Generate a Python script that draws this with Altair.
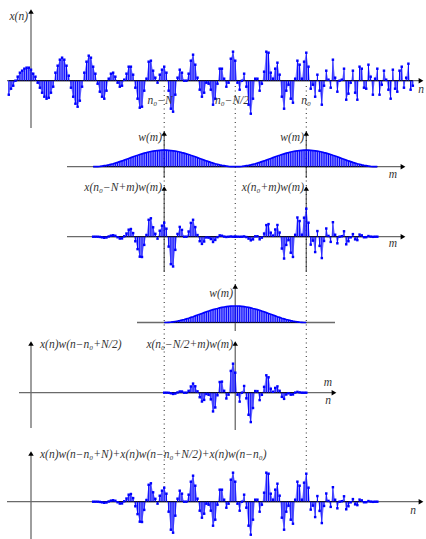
import altair as alt
import pandas as pd

# ---------------- data ----------------
N_START = -10          # first sample index of x(n)
x_vals = [
    -14, -8, -5, 0, 4, 8, 10, 12, 13, 13,
    11, 7, 4, -2, -7, -12, -16, -18, -17, -12,
    -6, 8, 15, 21, 23, 21, 15, 5, -7, -16,
    -23, -26, -20, -6, 8, 19, 25, 23, 14, 7,
    -3, -11, -16, -18, -10, 2,
    7, 8, 4, -2, -6, -5, 1, 7, 14, 14,
    6, -7, -18, -27, -26, -10, 2, 19, 20, 10,
    3, -2, 6, 11, 14, 8, -10, -28, -31, -14,
    3, 11, 8, 0, 0, 7, 20, 26, 16, 3,
    -9, -16, -12, -2, -3, -9,
    -24, -18, -3, 12, 12, 2, -6, -2, 22, 29,
    20, -2, -9, 0, 7, -6, -24, -33, -18, 2,
    2, -10, -3, 9, 29, 28, 8, 2, 12, 18,
    6, -16, -28, -10, -4, -18, -22, 2, 20, 16,
    2, 19, 28, 14, -8, -4, -16, 6, -10, -24,
    -5, 10, 1, -7, 21, 3, -11, 0, 1, 12,
    -19, -13, -2, 10, -12, -19, 14, 12, -7, -8,
    16, 4, -14, 2, 12, -14, -4, 10, 1, -9,
    -18, 11, -8, -11, 10, 14, -7, 3, 17, -9,
    -5,
]
M_START = -32          # window w(m), m = -32 ... 32
w_vals = [
    0.00, 0.00, 0.01, 0.02, 0.04, 0.06, 0.08, 0.11,
    0.15, 0.18, 0.22, 0.26, 0.31, 0.35, 0.40, 0.45,
    0.50, 0.55, 0.60, 0.65, 0.69, 0.74, 0.78, 0.82,
    0.85, 0.89, 0.92, 0.94, 0.96, 0.98, 0.99, 1.00,
    1.00,
    1.00, 0.99, 0.98, 0.96, 0.94, 0.92, 0.89, 0.85,
    0.82, 0.78, 0.74, 0.69, 0.65, 0.60, 0.55, 0.50,
    0.45, 0.40, 0.35, 0.31, 0.26, 0.22, 0.18, 0.15,
    0.11, 0.08, 0.06, 0.04, 0.02, 0.01, 0.00, 0.00,
]
N = 64
n0 = 124

# ---------------- layout ----------------
W, H = 426, 539
PX0, DX = 31.0, 2.22            # pixel of n = 0, pixels per sample


def n_at(px):
    return (px - PX0) / DX


BASE = {"x": 80.7, "w1": 166.7, "p1": 236.7, "w2": 322.5, "p2": 392.7, "s": 501.7}
WIN_H = 16.5
BLUE = "#0000ff"
GRAY = "#6a6a6a"

xs = {N_START + i: v for i, v in enumerate(x_vals)}
ws = {M_START + i: v for i, v in enumerate(w_vals)}

rows = []


def add(seg, kind, n, base, v):
    rows.append(dict(seg=seg, kind=kind, n=n, base=base, tip=base - v))


for n, v in xs.items():
    add("x", "sig", n, BASE["x"], v)
for c, seg in [(n0 - N, "wA"), (n0, "wB")]:
    for m, w in ws.items():
        add(seg, "win", c + m, BASE["w1"], WIN_H * w)
for m, w in ws.items():
    add("wC", "win", n0 - N // 2 + m, BASE["w2"], WIN_H * w)
for c, seg in [(n0 - N, "pA"), (n0, "pB")]:
    for m, w in ws.items():
        add(seg, "sig", c + m, BASE["p1"], xs[c + m] * w)
for m, w in ws.items():
    add("pC", "sig", n0 - N // 2 + m, BASE["p2"], xs[n0 - N // 2 + m] * w)
centers = [n0 - N, n0 - N // 2, n0]
for n in range(n0 - N - N // 2, n0 + N // 2 + 1):
    tot = sum(ws.get(n - c, 0) for c in centers)
    add("s", "sig", n, BASE["s"], xs[n] * tot)

df = pd.DataFrame(rows)
df_sig = df[df.kind == "sig"]
df_win = df[df.kind == "win"]
base_df = df.groupby("seg").agg(n1=("n", "min"), n2=("n", "max"), base=("base", "first")).reset_index()

h_axes = pd.DataFrame([
    dict(n1=n_at(7), n2=n_at(420), y=BASE["x"]),
    dict(n1=n_at(67), n2=n_at(402), y=BASE["w1"]),
    dict(n1=n_at(67), n2=n_at(402), y=BASE["p1"]),
    dict(n1=n_at(137), n2=n_at(335), y=BASE["w2"]),
    dict(n1=n_at(19), n2=n_at(333), y=BASE["p2"]),
    dict(n1=n_at(7), n2=n_at(420), y=BASE["s"]),
])
v_axes = pd.DataFrame([
    dict(n=0, y1=12, y2=128),
    dict(n=n0 - N, y1=133, y2=178), dict(n=n0, y1=133, y2=178),
    dict(n=n0 - N, y1=188, y2=272), dict(n=n0, y1=188, y2=272),
    dict(n=n0 - N // 2, y1=286, y2=331),
    dict(n=0, y1=343, y2=428), dict(n=n0 - N // 2, y1=343, y2=430),
    dict(n=0, y1=453, y2=539),
])
arrows = pd.DataFrame([
    dict(n=0, y=11.5, shape="triangle-up"),
    dict(n=n0 - N, y=133.5, shape="triangle-up"),
    dict(n=n0, y=133.5, shape="triangle-up"),
    dict(n=n0 - N, y=188.5, shape="triangle-up"),
    dict(n=n0, y=188.5, shape="triangle-up"),
    dict(n=n0 - N // 2, y=286.5, shape="triangle-up"),
    dict(n=0, y=343.5, shape="triangle-up"),
    dict(n=n0 - N // 2, y=343.5, shape="triangle-up"),
    dict(n=0, y=453.5, shape="triangle-up"),
    dict(n=n_at(421), y=BASE["x"], shape="triangle-right"),
    dict(n=n_at(403), y=BASE["w1"], shape="triangle-right"),
    dict(n=n_at(403), y=BASE["p1"], shape="triangle-right"),
    dict(n=n_at(334), y=BASE["p2"], shape="triangle-right"),
    dict(n=n_at(421), y=BASE["s"], shape="triangle-right"),
])
dots = pd.DataFrame([
    dict(n=n0 - N, y1=86, y2=487),
    dict(n=n0 - N // 2, y1=86, y2=286),
    dict(n=n0, y1=86, y2=472),
])
labels = pd.DataFrame([
    dict(t="x(n)", n=n_at(28), y=17, a="right"),
    dict(t="n", n=n_at(421), y=90, a="center"),
    dict(t="n₀−N", n=n_at(160), y=101, a="center"),
    dict(t="n₀−N/2", n=n_at(232), y=101, a="center"),
    dict(t="n₀", n=n_at(306), y=101, a="center"),
    dict(t="w(m)", n=n_at(162), y=138, a="right"),
    dict(t="w(m)", n=n_at(304), y=138, a="right"),
    dict(t="m", n=n_at(393), y=175, a="center"),
    dict(t="x(n₀−N+m)w(m)", n=n_at(162), y=188, a="right"),
    dict(t="x(n₀+m)w(m)", n=n_at(304), y=188, a="right"),
    dict(t="m", n=n_at(393), y=244, a="center"),
    dict(t="w(m)", n=n_at(233), y=294, a="right"),
    dict(t="x(n)w(n−n₀+N/2)", n=n_at(40), y=345, a="left"),
    dict(t="x(n₀−N/2+m)w(m)", n=n_at(233), y=345, a="right"),
    dict(t="m", n=n_at(328), y=383, a="center"),
    dict(t="n", n=n_at(328), y=401, a="center"),
    dict(t="x(n)w(n−n₀+N)+x(n)w(n−n₀+N/2)+x(n)w(n−n₀)", n=n_at(40), y=455, a="left"),
    dict(t="n", n=n_at(413), y=511, a="center"),
])

# ---------------- chart ----------------
xsc = alt.Scale(domain=[n_at(0), n_at(W)], nice=False, zero=False)
ysc = alt.Scale(domain=[0, H], reverse=True, nice=False, zero=False)


def X(f):
    return alt.X(f, type="quantitative", scale=xsc, axis=None)


def Y(f):
    return alt.Y(f, type="quantitative", scale=ysc, axis=None)


gray_h = alt.Chart(h_axes).mark_rule(color=GRAY, strokeWidth=1.3).encode(X("n1"), alt.X2("n2"), Y("y"))
gray_v = alt.Chart(v_axes).mark_rule(color=GRAY, strokeWidth=1.3).encode(X("n"), Y("y1"), alt.Y2("y2"))
dotted = alt.Chart(dots).mark_rule(color="#222", strokeWidth=1, strokeDash=[1, 3.5]).encode(
    X("n"), Y("y1"), alt.Y2("y2"))
area = alt.Chart(df).mark_area(color=BLUE, opacity=0.45).encode(
    X("n"), Y("tip"), alt.Y2("base"), detail="seg:N")
baselines = alt.Chart(base_df).mark_rule(color="#111", strokeWidth=1.2).encode(
    X("n1"), alt.X2("n2"), Y("base"))
stems = alt.Chart(df).mark_rule(color=BLUE, strokeWidth=1).encode(X("n"), Y("base"), alt.Y2("tip"))
winline = alt.Chart(df_win).mark_line(color=BLUE, strokeWidth=1.7).encode(
    X("n"), Y("tip"), detail="seg:N", order="n:Q")
tips = alt.Chart(df_sig).mark_square(color=BLUE, size=6, opacity=1).encode(X("n"), Y("tip"))
heads = alt.Chart(arrows).mark_point(filled=True, color="black", size=30, opacity=1).encode(
    X("n"), Y("y"), alt.Shape("shape:N", scale=None))

texts = []
for a in ["left", "right", "center"]:
    texts.append(
        alt.Chart(labels[labels.a == a]).mark_text(
            align=a, baseline="middle", font="Liberation Serif", fontStyle="italic",
            fontSize=11.5, color="#333"
        ).encode(X("n"), Y("y"), text="t:N")
    )

chart = alt.layer(
    gray_h, gray_v, dotted, area, baselines, stems, winline, tips, heads, *texts
).properties(
    width=W, height=H, padding=0, autosize="none", background="white"
).configure_view(strokeWidth=0)

chart.save("out.html", embed_options={"renderer": "svg", "actions": False})
